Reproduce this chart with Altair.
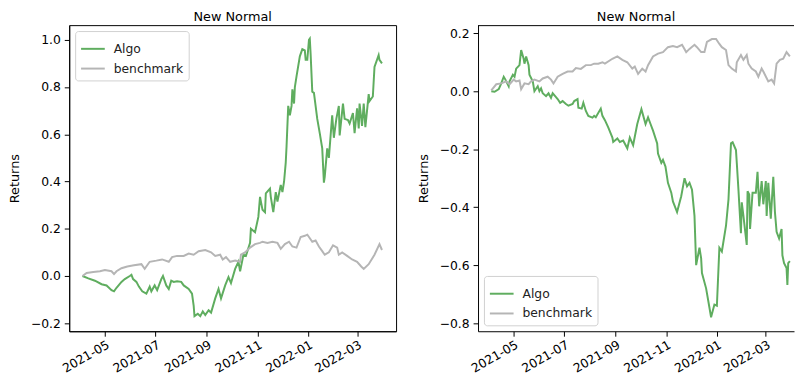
import altair as alt
import pandas as pd

# ---------------- data ----------------
series_names = ["Algo", "benchmark"]
series_colors = ["#5fad5f", "#b5b5b5"]
tick_months = ["2021-05", "2021-07", "2021-09", "2021-11", "2022-01", "2022-03"]
left_y_ticks = [-0.2, 0.0, 0.2, 0.4, 0.6, 0.8, 1.0]
right_y_ticks = [-0.8, -0.6, -0.4, -0.2, 0.0, 0.2]
panel_title = "New Normal"
y_title = "Returns"

left_algo_dates = [
    "2021-04-04", "2021-04-11", "2021-04-19", "2021-04-27", "2021-05-03", "2021-05-09",
    "2021-05-12", "2021-05-15", "2021-05-21", "2021-05-25", "2021-05-31", "2021-06-02",
    "2021-06-04", "2021-06-08", "2021-06-11", "2021-06-15", "2021-06-20", "2021-06-24",
    "2021-06-26", "2021-06-30", "2021-07-03", "2021-07-08", "2021-07-10", "2021-07-14",
    "2021-07-17", "2021-07-20", "2021-07-23", "2021-07-27", "2021-08-01", "2021-08-04",
    "2021-08-10", "2021-08-14", "2021-08-16", "2021-08-17", "2021-08-21", "2021-08-24",
    "2021-08-27", "2021-08-30", "2021-09-03", "2021-09-06", "2021-09-11", "2021-09-15",
    "2021-09-18", "2021-09-23", "2021-09-27", "2021-09-30", "2021-10-05", "2021-10-09",
    "2021-10-11", "2021-10-15", "2021-10-18", "2021-10-23", "2021-10-24", "2021-10-29",
    "2021-11-02", "2021-11-04", "2021-11-07", "2021-11-10", "2021-11-11", "2021-11-16",
    "2021-11-17", "2021-11-20", "2021-11-23", "2021-11-25", "2021-11-29", "2021-12-01",
    "2021-12-03", "2021-12-05", "2021-12-06", "2021-12-08", "2021-12-10", "2021-12-12",
    "2021-12-13", "2021-12-15", "2021-12-16", "2021-12-18", "2021-12-22", "2021-12-25",
    "2021-12-28", "2021-12-29", "2021-12-31", "2022-01-02", "2022-01-03", "2022-01-04",
    "2022-01-06", "2022-01-08", "2022-01-12", "2022-01-15", "2022-01-18", "2022-01-20",
    "2022-01-21", "2022-01-24", "2022-01-26", "2022-01-30", "2022-02-01", "2022-02-04",
    "2022-02-07", "2022-02-08", "2022-02-12", "2022-02-14", "2022-02-18", "2022-02-20",
    "2022-02-24", "2022-02-26", "2022-03-01", "2022-03-03", "2022-03-04", "2022-03-07",
    "2022-03-09", "2022-03-11", "2022-03-15", "2022-03-16", "2022-03-20", "2022-03-22",
    "2022-03-27", "2022-03-28", "2022-03-31",
]
left_algo_vals = [
    0.00, -0.01, -0.02, -0.035, -0.04, -0.06,
    -0.065, -0.05, -0.025, -0.013, 0.0, 0.005,
    -0.013, -0.025, -0.045, -0.065, -0.075, -0.045,
    -0.065, -0.04, -0.06, -0.013, 0.0, -0.04,
    -0.055, -0.02, -0.025, -0.022, -0.025, -0.04,
    -0.055, -0.075, -0.125, -0.17, -0.16, -0.17,
    -0.15, -0.165, -0.145, -0.155, -0.095, -0.055,
    -0.095, -0.04, -0.005, -0.03, 0.03, 0.06,
    0.02, 0.09, 0.085, 0.14, 0.20, 0.185,
    0.25, 0.335, 0.28, 0.27, 0.35, 0.37,
    0.335, 0.27, 0.355, 0.315, 0.385, 0.355,
    0.40, 0.48, 0.55, 0.72, 0.68, 0.72,
    0.79, 0.73, 0.80, 0.845, 0.93, 0.96,
    0.955, 0.915, 0.915, 1.0, 1.005, 0.94,
    0.78, 0.775, 0.665, 0.605, 0.54, 0.395,
    0.42, 0.54, 0.50, 0.68, 0.585, 0.665,
    0.72, 0.595, 0.73, 0.665, 0.66, 0.645,
    0.69, 0.605, 0.71, 0.625, 0.73, 0.635,
    0.73, 0.63, 0.77, 0.74, 0.76, 0.885,
    0.935, 0.915, 0.90,
]

left_bench_dates = [
    "2021-04-04", "2021-04-09", "2021-04-17", "2021-04-25", "2021-05-01", "2021-05-09",
    "2021-05-12", "2021-05-15", "2021-05-21", "2021-05-28", "2021-06-05", "2021-06-14",
    "2021-06-18", "2021-06-24", "2021-07-02", "2021-07-09", "2021-07-17", "2021-07-21",
    "2021-07-27", "2021-08-04", "2021-08-10", "2021-08-16", "2021-08-22", "2021-08-30",
    "2021-09-06", "2021-09-11", "2021-09-17", "2021-09-20", "2021-09-24", "2021-09-29",
    "2021-10-05", "2021-10-11", "2021-10-12", "2021-10-17", "2021-10-23", "2021-10-29",
    "2021-11-04", "2021-11-07", "2021-11-13", "2021-11-19", "2021-11-25", "2021-11-29",
    "2021-12-04", "2021-12-09", "2021-12-13", "2021-12-18", "2021-12-23", "2021-12-28",
    "2021-12-31", "2022-01-02", "2022-01-06", "2022-01-10", "2022-01-14", "2022-01-18",
    "2022-01-21", "2022-01-26", "2022-01-31", "2022-02-05", "2022-02-07", "2022-02-11",
    "2022-02-17", "2022-02-23", "2022-03-01", "2022-03-06", "2022-03-09", "2022-03-15",
    "2022-03-22", "2022-03-28", "2022-03-31",
]
left_bench_vals = [
    0.0, 0.013, 0.017, 0.02, 0.025, 0.02,
    0.008, 0.02, 0.033, 0.04, 0.045, 0.05,
    0.03, 0.06, 0.065, 0.07, 0.06, 0.08,
    0.085, 0.085, 0.095, 0.09, 0.105, 0.11,
    0.10, 0.085, 0.09, 0.07, 0.08, 0.06,
    0.065, 0.06, 0.09, 0.10, 0.12, 0.135,
    0.14, 0.145, 0.14, 0.145, 0.14, 0.115,
    0.135, 0.145, 0.125, 0.12, 0.165, 0.17,
    0.175, 0.165, 0.145, 0.15, 0.125, 0.105,
    0.09, 0.10, 0.13, 0.12, 0.09, 0.10,
    0.085, 0.07, 0.06, 0.04, 0.03, 0.05,
    0.09, 0.135, 0.11,
]

right_algo_dates = [
    "2021-04-04", "2021-04-08", "2021-04-13", "2021-04-16", "2021-04-19", "2021-04-21",
    "2021-04-25", "2021-04-26", "2021-04-30", "2021-05-02", "2021-05-04", "2021-05-08",
    "2021-05-10", "2021-05-13", "2021-05-14", "2021-05-16", "2021-05-19", "2021-05-20",
    "2021-05-24", "2021-05-26", "2021-05-30", "2021-06-01", "2021-06-03", "2021-06-05",
    "2021-06-09", "2021-06-12", "2021-06-15", "2021-06-17", "2021-06-20", "2021-06-23",
    "2021-06-26", "2021-06-29", "2021-07-03", "2021-07-06", "2021-07-11", "2021-07-13",
    "2021-07-17", "2021-07-18", "2021-07-22", "2021-07-24", "2021-07-27", "2021-07-30",
    "2021-08-04", "2021-08-06", "2021-08-08", "2021-08-14", "2021-08-16", "2021-08-19",
    "2021-08-23", "2021-08-28", "2021-08-29", "2021-09-03", "2021-09-06", "2021-09-10",
    "2021-09-15", "2021-09-18", "2021-09-22", "2021-09-27", "2021-10-02", "2021-10-07",
    "2021-10-10", "2021-10-13", "2021-10-16", "2021-10-21", "2021-10-22", "2021-10-26",
    "2021-10-28", "2021-10-31", "2021-11-03", "2021-11-07", "2021-11-09", "2021-11-14",
    "2021-11-19", "2021-11-23", "2021-11-26", "2021-11-29", "2021-12-02", "2021-12-05",
    "2021-12-07", "2021-12-11", "2021-12-13", "2021-12-14", "2021-12-19", "2021-12-23",
    "2021-12-25", "2021-12-29", "2022-01-01", "2022-01-04", "2022-01-07", "2022-01-12",
    "2022-01-15", "2022-01-18", "2022-01-20", "2022-01-24", "2022-01-25", "2022-01-27",
    "2022-01-30", "2022-01-31", "2022-02-02", "2022-02-06", "2022-02-07", "2022-02-09",
    "2022-02-10", "2022-02-13", "2022-02-17", "2022-02-19", "2022-02-21", "2022-02-24",
    "2022-02-26", "2022-03-01", "2022-03-02", "2022-03-04", "2022-03-07", "2022-03-10",
    "2022-03-12", "2022-03-14", "2022-03-17", "2022-03-20", "2022-03-21", "2022-03-23",
    "2022-03-26", "2022-03-27", "2022-03-28", "2022-03-30",
]
right_algo_vals = [
    0.0, -0.002, 0.007, 0.027, 0.05, 0.04,
    0.017, 0.034, 0.057, 0.05, 0.078, 0.09,
    0.142, 0.112, 0.095, 0.12, 0.09, 0.057,
    0.034, 0.0, 0.017, 0.0, 0.01, -0.007,
    -0.017, -0.007, -0.023, -0.007, -0.017, -0.027,
    -0.04, -0.034, -0.044, -0.05, -0.044, -0.034,
    -0.027, -0.057, -0.06, -0.04, -0.068, -0.085,
    -0.091, -0.085, -0.09, -0.06, -0.085, -0.10,
    -0.125, -0.16, -0.175, -0.163, -0.175, -0.17,
    -0.197, -0.16, -0.186, -0.113, -0.062, -0.113,
    -0.09, -0.113, -0.136, -0.18, -0.215, -0.247,
    -0.237, -0.26, -0.316, -0.35, -0.38, -0.417,
    -0.362, -0.30, -0.328, -0.316, -0.34, -0.43,
    -0.60, -0.54, -0.576, -0.627, -0.68, -0.746,
    -0.78, -0.736, -0.74, -0.54, -0.553, -0.464,
    -0.373, -0.18, -0.176, -0.203, -0.247, -0.34,
    -0.49, -0.383, -0.43, -0.53, -0.345, -0.356,
    -0.475, -0.35, -0.35, -0.278, -0.397, -0.31,
    -0.39, -0.31, -0.43, -0.316, -0.44, -0.295,
    -0.417, -0.485, -0.508, -0.475, -0.566, -0.593,
    -0.61, -0.668, -0.593, -0.586,
]

right_bench_dates = [
    "2021-04-04", "2021-04-10", "2021-04-16", "2021-04-22", "2021-04-26", "2021-05-01",
    "2021-05-04", "2021-05-08", "2021-05-10", "2021-05-14", "2021-05-19", "2021-05-22",
    "2021-05-26", "2021-06-01", "2021-06-05", "2021-06-11", "2021-06-15", "2021-06-18",
    "2021-06-23", "2021-06-29", "2021-07-05", "2021-07-11", "2021-07-15", "2021-07-21",
    "2021-07-27", "2021-08-02", "2021-08-06", "2021-08-11", "2021-08-16", "2021-08-19",
    "2021-08-28", "2021-09-03", "2021-09-09", "2021-09-15", "2021-09-21", "2021-09-24",
    "2021-09-28", "2021-10-03", "2021-10-07", "2021-10-10", "2021-10-16", "2021-10-22",
    "2021-10-28", "2021-11-03", "2021-11-09", "2021-11-14", "2021-11-20", "2021-11-25",
    "2021-11-29", "2021-12-05", "2021-12-08", "2021-12-13", "2021-12-17", "2021-12-20",
    "2021-12-26", "2021-12-31", "2022-01-04", "2022-01-07", "2022-01-12", "2022-01-15",
    "2022-01-19", "2022-01-24", "2022-01-25", "2022-01-30", "2022-02-02", "2022-02-06",
    "2022-02-08", "2022-02-12", "2022-02-17", "2022-02-20", "2022-02-24", "2022-02-26",
    "2022-03-04", "2022-03-08", "2022-03-11", "2022-03-14", "2022-03-18", "2022-03-22",
    "2022-03-26", "2022-03-30",
]
right_bench_vals = [
    0.003, 0.024, 0.027, 0.034, 0.024, 0.04,
    0.034, 0.037, 0.007, 0.027, 0.024, 0.034,
    0.04, 0.034, 0.044, 0.05, 0.04, 0.027,
    0.05, 0.06, 0.068, 0.068, 0.08, 0.077,
    0.09, 0.09, 0.095, 0.095, 0.10, 0.095,
    0.112, 0.12, 0.108, 0.10, 0.078, 0.085,
    0.06, 0.078, 0.068, 0.09, 0.12, 0.13,
    0.135, 0.152, 0.156, 0.152, 0.16, 0.135,
    0.146, 0.16, 0.152, 0.135, 0.135, 0.17,
    0.18, 0.18, 0.163, 0.152, 0.142, 0.09,
    0.078, 0.068, 0.10, 0.125, 0.108, 0.125,
    0.095, 0.078, 0.068, 0.05, 0.078, 0.068,
    0.034, 0.04, 0.027, 0.095, 0.108, 0.112,
    0.135, 0.12,
]

left_y_domain = [-0.234, 1.062]
right_y_domain = [-0.828, 0.228]
x_start = "2021-03-19"
left_x_end = "2022-04-17"
right_x_end = "2022-04-04"

# ---------------- chart ----------------
FONT = "DejaVu Sans"
LEFT_W, RIGHT_W, H = 331, 320, 310


def dt(s):
    y, m, d = (s.split("-") + ["01"])[:3]
    return alt.DateTime(year=int(y), month=int(m), date=int(d), utc=True)


def make_df(ad, av, bd, bv):
    return pd.DataFrame({
        "date": ad + bd,
        "value": av + bv,
        "series": [series_names[0]] * len(ad) + [series_names[1]] * len(bd),
    })


def lines(df, y_domain, y_ticks, x_end, legend_orient):
    return alt.Chart(df).mark_line(strokeWidth=2, clip=True).encode(
        x=alt.X(
            "date:T",
            scale=alt.Scale(type="utc", domain=[dt(x_start), dt(x_end)], nice=False),
            axis=alt.Axis(
                values=[dt(m) for m in tick_months], format="%Y-%m", title=None,
                labelAngle=-30, labelAlign="right", labelBaseline="top",
                labelOverlap=False, labelFlush=False,
                tickSize=5, labelPadding=2, grid=False,
            ),
        ),
        y=alt.Y(
            "value:Q",
            scale=alt.Scale(domain=y_domain, nice=False, zero=False),
            axis=alt.Axis(
                values=y_ticks, format=".1f", title=y_title, grid=False,
                labelOverlap=False,
                tickSize=5, labelPadding=4, minExtent=42, maxExtent=42, titlePadding=6,
            ),
        ),
        color=alt.Color(
            "series:N",
            scale=alt.Scale(domain=series_names, range=series_colors),
            legend=alt.Legend(orient=legend_orient, title=None, offset=6),
        ),
        order=alt.Order("date:T"),
    )


left_df = make_df(left_algo_dates, left_algo_vals, left_bench_dates, left_bench_vals)
right_df = make_df(right_algo_dates, right_algo_vals, right_bench_dates, right_bench_vals)

title = alt.TitleParams(panel_title, fontSize=13, fontWeight="normal", font=FONT,
                        anchor="middle", offset=1, color="black")

left = lines(left_df, left_y_domain, left_y_ticks, left_x_end, "top-left").properties(
    width=LEFT_W, height=H, title=title
)

top_border = alt.Chart(alt.Data(values=[{"k": 1}])).mark_rule(
    color="black", strokeWidth=1
).encode(x=alt.value(0), x2=alt.value(RIGHT_W), y=alt.value(0.5))

right = alt.layer(
    lines(right_df, right_y_domain, right_y_ticks, right_x_end, "bottom-left"),
    top_border,
).properties(
    width=RIGHT_W, height=H, title=title,
    view=alt.ViewBackground(stroke="transparent"),
)

chart = alt.hconcat(left, right, spacing=20).properties(
    padding={"left": 0, "top": 0, "right": 0, "bottom": 0}
).configure_view(
    stroke="black", strokeWidth=1
).configure_axis(
    domainColor="black", domainWidth=1, tickColor="black", tickWidth=1,
    labelColor="black", titleColor="black", labelFont=FONT, titleFont=FONT,
    labelFontSize=12.5, titleFontSize=13, titleFontWeight="normal",
).configure_legend(
    labelFont=FONT, labelFontSize=12.5, labelColor="#222222",
    symbolType="stroke", symbolStrokeWidth=2, symbolSize=576,
    fillColor="white", strokeColor="#d0d0d0", cornerRadius=3, padding=5,
    rowPadding=0, labelOffset=8,
)

chart.save("out.html", embed_options={"renderer": "svg", "actions": False})
